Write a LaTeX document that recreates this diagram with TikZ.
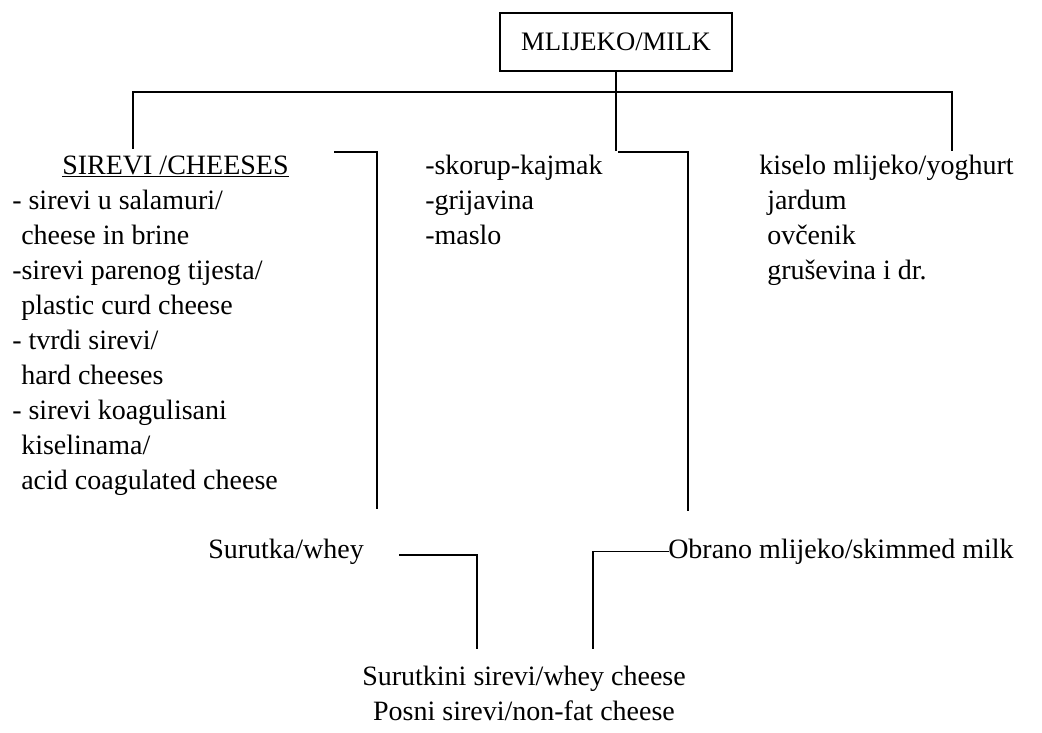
\documentclass[tikz,border=0pt]{standalone}
\usepackage{fontspec}
\setmainfont{Liberation Serif}
\begin{document}
\begin{tikzpicture}[x=0.75pt,y=-0.75pt,
  txt/.style={inner sep=0pt,anchor=mid west,font=\fontsize{21}{25}\selectfont},
  ctxt/.style={inner sep=0pt,anchor=mid,font=\fontsize{21}{25}\selectfont},
  conn/.style={line width=1.2pt,line cap=rect},
  topbox/.style={draw,line width=1.2pt,minimum width=174pt,minimum height=43.5pt,inner sep=0pt,font=\fontsize{20}{24}\selectfont}]
\useasboundingbox[fill=white] (0,0) rectangle (1042,732);
% top box
\node[topbox] (milk) at (616,42) {MLIJEKO/MILK};
% left column
\node[txt] (sir) at (62,171) {\underline{SIREVI /CHEESES}};
\node[txt] (l1) at (12,206) {- sirevi u salamuri/};
\node[txt] (l2) at (21,241) {cheese in brine};
\node[txt] (l3) at (12,276) {-sirevi parenog tijesta/};
\node[txt] (l4) at (21,311) {plastic curd cheese};
\node[txt] (l5) at (12,346) {- tvrdi sirevi/};
\node[txt] (l6) at (21,381) {hard cheeses};
\node[txt] (l7) at (12,416) {- sirevi koagulisani};
\node[txt] (l8) at (21,451) {kiselinama/};
\node[txt] (l9) at (21,486) {acid coagulated cheese};
% middle column
\node[txt] (m1) at (425,171) {-skorup-kajmak};
\node[txt] (m2) at (425,206) {-grijavina};
\node[txt] (m3) at (425,241) {-maslo};
% right column
\node[txt] (r1) at (759,171) {kiselo mlijeko/yoghurt};
\node[txt] (r2) at (767,206) {jardum};
\node[txt] (r3) at (767,241) {ovčenik};
\node[txt] (r4) at (767,276) {gruševina i dr.};
% lower
\node[txt] (whey) at (208,555) {Surutka/whey};
\node[txt] (obr) at (668,555) {Obrano mlijeko/skimmed milk};
\node[ctxt] (b1) at (524,682) {Surutkini sirevi/whey cheese};
\node[ctxt] (b2) at (524,717) {Posni sirevi/non-fat cheese};
% coordinates
\coordinate (hl) at (133,92);
\coordinate (hr) at (952,92);
\coordinate (dl) at (133,148);
\coordinate (dm) at (616,150);
\coordinate (dr) at (952,150);
\coordinate (a1) at (335,152);
\coordinate (a2) at (377,152);
\coordinate (a3) at (377,508);
\coordinate (c1) at (619,152);
\coordinate (c2) at (688,152);
\coordinate (c3) at (688,510);
\coordinate (w1) at (400,555);
\coordinate (w2) at (477,555);
\coordinate (w3) at (477,648);
\coordinate (o1) at (593,648);
% connectors
\draw[conn] (milk.south) -- (milk.south |- dm);
\draw[conn] (dl) -- (hl) -- (hr) -- (dr);
\draw[conn] (a1) -- (a2) -- (a3);
\draw[conn] (c1) -- (c2) -- (c3);
\draw[conn] (w1) -- (w2) -- (w3);
\draw[conn] (o1) -- (o1 |- obr.west) -- (obr.west);
\end{tikzpicture}
\end{document}
